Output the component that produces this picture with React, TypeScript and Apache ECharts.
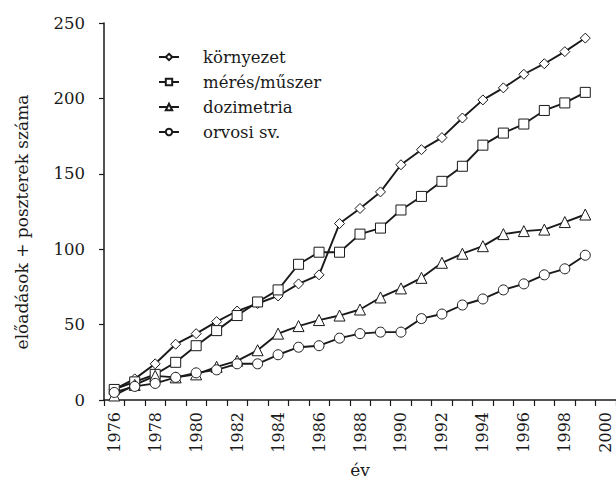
import React, { useEffect, useRef } from "react";
import * as echarts from "echarts";

const years = [
  "1976", "1977", "1978", "1979", "1980", "1981", "1982", "1983", "1984", "1985",
  "1986", "1987", "1988", "1989", "1990", "1991", "1992", "1993", "1994", "1995",
  "1996", "1997", "1998", "1999", "2000",
];
const kornyezet = [7, 14, 24, 37, 44, 52, 59, 64, 69, 77, 83, 117, 127, 138, 156, 166, 174, 187, 199, 207, 216, 223, 231, 240];
const meres = [7, 12, 17, 25, 36, 46, 56, 65, 73, 90, 98, 98, 110, 114, 126, 135, 145, 155, 169, 177, 183, 192, 197, 204];
const dozimetria = [3, 10, 16, 15, 17, 22, 26, 33, 44, 49, 53, 56, 60, 68, 74, 81, 91, 97, 102, 110, 112, 113, 118, 123];
const orvosi = [5, 9, 11, 15, 18, 20, 24, 24, 30, 35, 36, 41, 44, 45, 45, 54, 57, 63, 67, 73, 77, 83, 87, 96];
const seriesNames = ["környezet", "mérés/műszer", "dozimetria", "orvosi sv."];

const FONT = "DejaVu Serif";
const INK = "#1a1a1a";

export default function App() {
  const ref = useRef<HTMLDivElement>(null);
  useEffect(() => {
    if (!ref.current) return;
    const chart = echarts.init(ref.current, undefined, { renderer: "svg" });
    const mk = (name: string, data: number[], symbol: string, size: number) => ({
      name,
      type: "line",
      data,
      symbol,
      symbolSize: size,
      showSymbol: true,
      lineStyle: { color: INK, width: 1.9 },
      itemStyle: { color: "#ffffff", borderColor: INK, borderWidth: 1 },
      emphasis: { disabled: true },
    });
    chart.setOption({
      animation: false,
      backgroundColor: "#ffffff",
      textStyle: { fontFamily: FONT },
      grid: { left: 104, right: 0, top: 23, bottom: 91, containLabel: false },
      legend: {
        orient: "vertical",
        left: 153,
        top: 42,
        itemWidth: 20,
        itemHeight: 8,
        itemGap: 5,
        data: seriesNames,
        textStyle: {
          fontFamily: FONT,
          fontSize: 16.5,
          color: INK,
          lineHeight: 20,
          padding: [0, 0, 0, 19],
        },
      },
      xAxis: {
        type: "category",
        data: years,
        boundaryGap: true,
        axisLine: { lineStyle: { color: INK, width: 1.5 } },
        axisTick: { show: true, interval: 0, length: 6, inside: false, lineStyle: { color: INK, width: 1.2 } },
        axisLabel: {
          interval: 1,
          rotate: 90,
          margin: 12,
          fontFamily: FONT,
          fontSize: 16,
          color: INK,
        },
        splitLine: { show: false },
      },
      yAxis: {
        type: "value",
        min: 0,
        max: 250,
        interval: 50,
        axisLine: { show: true, lineStyle: { color: INK, width: 1.5 } },
        axisTick: { show: true, length: 5, lineStyle: { color: INK, width: 1.2 } },
        axisLabel: { margin: 19, fontFamily: FONT, fontSize: 16.5, color: INK },
        splitLine: { show: false },
      },
      graphic: [
        {
          type: "text",
          x: 22,
          y: 222,
          rotation: Math.PI / 2,
          style: {
            text: "előadások + poszterek száma",
            fontFamily: FONT,
            fontSize: 17,
            fill: INK,
            textAlign: "center",
            textVerticalAlign: "middle",
          },
        },
        {
          type: "text",
          x: 360,
          y: 470,
          style: {
            text: "év",
            fontFamily: FONT,
            fontSize: 17,
            fill: INK,
            textAlign: "center",
            textVerticalAlign: "middle",
          },
        },
      ],
      series: [
        mk(seriesNames[0], kornyezet, "diamond", 10),
        mk(seriesNames[1], meres, "rect", 10),
        mk(seriesNames[2], dozimetria, "triangle", 11),
        mk(seriesNames[3], orvosi, "circle", 10),
      ],
    });
    return () => chart.dispose();
  }, []);
  return (
    <div
      ref={ref}
      style={{ position: "fixed", left: 0, top: 0, width: 616, height: 491, background: "#fff" }}
    />
  );
}
